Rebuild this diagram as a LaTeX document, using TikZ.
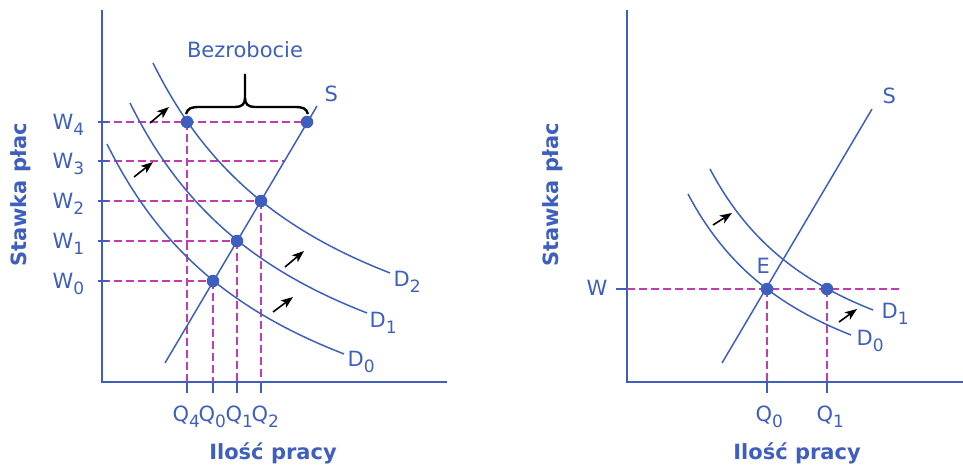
\documentclass[tikz,border=0pt]{standalone}
\usepackage{fontspec}
\setmainfont{DejaVu Sans}
\usetikzlibrary{arrows.meta, positioning, calc}
\definecolor{cblue}{HTML}{3F5FBF}
\definecolor{cpink}{HTML}{C03CB0}
\newcommand{\lsub}[1]{\raisebox{-6.5pt}{\fontsize{17}{20}\selectfont #1}}
\tikzset{
  every picture/.style={line width=1.3pt},
  axis/.style={draw=cblue, line width=2pt},
  curve/.style={draw=cblue, line width=1.5pt},
  guide/.style={draw=cpink, line width=1.4pt, dash pattern=on 8pt off 4pt},
  tickmark/.style={draw=cblue, line width=1.5pt},
  dot/.style={circle, fill=cblue, inner sep=0pt, minimum size=12.5pt},
  shiftarrow/.style={-{Stealth[length=12pt, width=9pt, inset=3pt]}, draw=black, line width=1.6pt},
  lbl/.style={text=cblue, font=\fontsize{21}{25}\selectfont, inner sep=0pt},
  axlbl/.style={text=cblue, font=\fontsize{21}{25}\selectfont\bfseries, inner sep=0pt},
}

\begin{document}
\begin{tikzpicture}[x=1pt, y=-1pt]
  \useasboundingbox (0,0) rectangle (963,468);
  % left panel: axes
  \coordinate (ltop) at (102,10);
  \coordinate (lo) at (102,382);
  \coordinate (lend) at (447,382);
  \draw[axis] (ltop) -- (lo) -- (lend);
  % left panel: points
  \coordinate (p4) at (187,122);
  \coordinate (s4) at (307,122);
  \coordinate (s3) at (284.5,161);
  \coordinate (p2) at (261,201);
  \coordinate (p1) at (237,241);
  \coordinate (p0) at (213,281);
  \foreach \n/\y in {4/122,3/161,2/201,1/241,0/281}
    \coordinate (w\n) at (102,\y);
  \foreach \n/\x in {4/187,0/213,1/237,2/261}
    \coordinate (q\n) at (\x,382);
  % guides
  \draw[guide] (w4) -- (s4);
  \draw[guide] (w3) -- (s3);
  \draw[guide] (w2) -- (p2);
  \draw[guide] (w1) -- (p1);
  \draw[guide] (w0) -- (p0);
  \draw[guide] (p4) -- (q4);
  \draw[guide] (p0) -- (q0);
  \draw[guide] (p1) -- (q1);
  \draw[guide] (p2) -- (q2);
  \foreach \n in {4,3,2,1,0}
    \draw[tickmark] ($(w\n)+(-4,0)$) -- ($(w\n)+(6,0)$);
  \foreach \n in {4,0,1,2}
    \draw[tickmark] (q\n) -- ($(q\n)+(0,11)$);
  % demand and supply
  \draw[curve, domain=153:390, samples=80] plot (\x, {435.8-685.3/((\x+30.8)/100)});
  \draw[curve, shift={(-23,40)}, domain=153:390, samples=80] plot (\x, {435.8-685.3/((\x+30.8)/100)});
  \draw[curve, shift={(-46,81)}, domain=153:390, samples=80] plot (\x, {435.8-685.3/((\x+30.8)/100)});
  \coordinate (sa) at (165,363);
  \coordinate (sb) at (317,106);
  \draw[curve] (sa) -- (sb);
  \foreach \p in {p4,s4,p2,p1,p0}
    \node[dot] at (\p) {};
  % shifts
  \coordinate (a1) at (150,123); \coordinate (b1) at (169,107);
  \coordinate (a2) at (134,177); \coordinate (b2) at (153,162);
  \coordinate (a3) at (285,267); \coordinate (b3) at (304,251);
  \coordinate (a4) at (273,312); \coordinate (b4) at (293,297);
  \foreach \i in {1,...,4}
    \draw[shiftarrow] (a\i) -- (b\i);
  % brace
  \draw[line width=2.4pt] (186,114) .. controls (188,108) and (191,107) .. (200,107) -- (235,107)
    .. controls (242,107) and (245,104) .. (245,98) -- (245,74);
  \draw[line width=2.4pt] (308,114) .. controls (306,108) and (303,107) .. (294,107) -- (255,107)
    .. controls (248,107) and (245,104) .. (245,98);
  \node[lbl, anchor=base] (bez) at (245,58) {Bezrobocie};
  % labels
  \node[lbl, anchor=base west] (ls) at (324,102) {S};
  \node[lbl, anchor=base west] (ld2) at (393,286) {D\lsub{2}};
  \node[lbl, anchor=base west] (ld1) at (369,327) {D\lsub{1}};
  \node[lbl, anchor=base west] (ld0) at (347,366) {D\lsub{0}};
  \foreach \n/\y in {4/122,3/161,2/201,1/241,0/281}
    \node[lbl, anchor=base west] (lw\n) at (52,\y+7) {W\lsub{\n}};
  \node[lbl, anchor=base west] (lq4) at (172,421) {Q\lsub{4}};
  \node[lbl, anchor=base west] (lq0) at (198,421) {Q\lsub{0}};
  \node[lbl, anchor=base west] (lq1) at (225,421) {Q\lsub{1}};
  \node[lbl, anchor=base west] (lq2) at (251,421) {Q\lsub{2}};
  \node[axlbl, rotate=90] (lyl) at (21,195) {Stawka płac};
  \node[axlbl] (lxl) at (273,453) {Ilość pracy};

  % right panel: axes
  \coordinate (rtop) at (627,10);
  \coordinate (ro) at (627,382);
  \coordinate (rend) at (963,382);
  \draw[axis] (rtop) -- (ro) -- (rend);
  \coordinate (e) at (767,289);
  \coordinate (f) at (827,289);
  \coordinate (wr) at (627,289);
  \coordinate (wend) at (902,289);
  \coordinate (qe) at (767,382);
  \coordinate (qf) at (827,382);
  \draw[guide] (wr) -- (wend);
  \draw[guide] (e) -- (qe);
  \draw[guide] (f) -- (qf);
  \draw[tickmark] ($(wr)+(-11,0)$) -- (wr);
  \draw[tickmark] (qe) -- ($(qe)+(0,11)$);
  \draw[tickmark] (qf) -- ($(qf)+(0,11)$);
  \draw[curve, domain=688:851, samples=80] plot (\x, {452.9-352.89/((\x-551.7)/100)});
  \draw[curve, shift={(22,-25)}, domain=688:851, samples=80] plot (\x, {452.9-352.89/((\x-551.7)/100)});
  \coordinate (ra) at (722,363);
  \coordinate (rb) at (872,109);
  \draw[curve] (ra) -- (rb);
  \node[dot] at (e) {};
  \node[dot] at (f) {};
  \coordinate (a5) at (713,225); \coordinate (b5) at (732,213);
  \coordinate (a6) at (839,322); \coordinate (b6) at (857,309);
  \draw[shiftarrow] (a5) -- (b5);
  \draw[shiftarrow] (a6) -- (b6);
  \node[lbl, anchor=base west] (rs) at (882,103) {S};
  \node[lbl, anchor=base west] (rd1) at (881,318) {D\lsub{1}};
  \node[lbl, anchor=base west] (rd0) at (856,345) {D\lsub{0}};
  \node[lbl, anchor=base west] (re) at (756,273) {E};
  \node[lbl, anchor=base west] (rw) at (586,295) {W};
  \node[lbl, anchor=base west] (rq0) at (755,421) {Q\lsub{0}};
  \node[lbl, anchor=base west] (rq1) at (816,421) {Q\lsub{1}};
  \node[axlbl, rotate=90] (ryl) at (553,195) {Stawka płac};
  \node[axlbl] (rxl) at (797,453) {Ilość pracy};
\end{tikzpicture}
\end{document}
